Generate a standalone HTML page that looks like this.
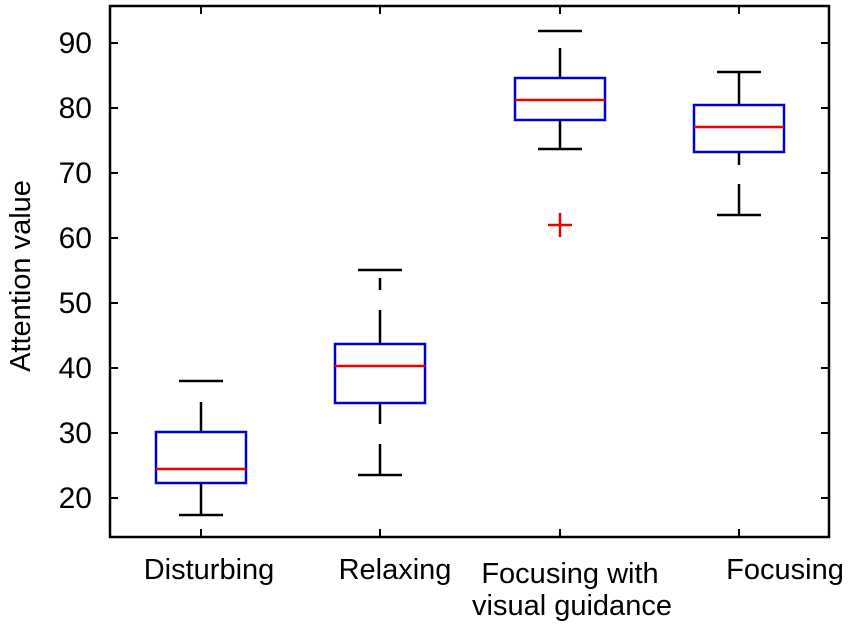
<!DOCTYPE html>
<html><head><style>body{margin:0;background:#fff}svg{display:block}text{font-family:"Liberation Sans","DejaVu Sans",sans-serif;fill:#000}</style></head>
<body>
<svg width="850" height="637" viewBox="0 0 850 637" xmlns="http://www.w3.org/2000/svg">
<rect x="110" y="6" width="719" height="531" fill="none" stroke="#000" stroke-width="2.5"/>
<g stroke="#000" stroke-width="2">
<line x1="110" y1="43" x2="118" y2="43"/><line x1="110" y1="108" x2="118" y2="108"/><line x1="110" y1="173" x2="118" y2="173"/><line x1="110" y1="238" x2="118" y2="238"/><line x1="110" y1="303" x2="118" y2="303"/><line x1="110" y1="368" x2="118" y2="368"/><line x1="110" y1="433" x2="118" y2="433"/><line x1="110" y1="498" x2="118" y2="498"/>
<line x1="829" y1="43" x2="821" y2="43"/><line x1="829" y1="108" x2="821" y2="108"/><line x1="829" y1="173" x2="821" y2="173"/><line x1="829" y1="238" x2="821" y2="238"/><line x1="829" y1="303" x2="821" y2="303"/><line x1="829" y1="368" x2="821" y2="368"/><line x1="829" y1="433" x2="821" y2="433"/><line x1="829" y1="498" x2="821" y2="498"/>
<line x1="201" y1="537" x2="201" y2="529"/><line x1="380" y1="537" x2="380" y2="529"/><line x1="560" y1="537" x2="560" y2="529"/><line x1="739" y1="537" x2="739" y2="529"/>
<line x1="201" y1="6" x2="201" y2="14"/><line x1="380" y1="6" x2="380" y2="14"/><line x1="560" y1="6" x2="560" y2="14"/><line x1="739" y1="6" x2="739" y2="14"/>
</g>
<g font-size="30" text-anchor="end">
<text x="92" y="53">90</text><text x="92" y="118">80</text><text x="92" y="183">70</text><text x="92" y="248">60</text><text x="92" y="313">50</text><text x="92" y="378">40</text><text x="92" y="443">30</text><text x="92" y="508">20</text>
</g>
<text transform="translate(30,276) rotate(-90)" font-size="29" text-anchor="middle">Attention value</text>
<g font-size="29" text-anchor="middle">
<text x="209" y="579">Disturbing</text><text x="395" y="579">Relaxing</text><text x="570" y="583">Focusing with</text><text x="572" y="615">visual guidance</text><text x="785" y="579">Focusing</text>
</g>
<g stroke="#000" stroke-width="2.5" fill="none">
<line x1="179" y1="381" x2="223" y2="381"/><line x1="201" y1="402" x2="201" y2="432"/><line x1="201" y1="483" x2="201" y2="515"/><line x1="179" y1="515" x2="223" y2="515"/>
<line x1="358" y1="270" x2="402" y2="270"/><line x1="380" y1="278" x2="380" y2="290"/><line x1="380" y1="310" x2="380" y2="344"/><line x1="380" y1="403" x2="380" y2="424"/><line x1="380" y1="444" x2="380" y2="475"/><line x1="358" y1="475" x2="402" y2="475"/>
<line x1="538" y1="31" x2="582" y2="31"/><line x1="560" y1="48" x2="560" y2="78"/><line x1="560" y1="120" x2="560" y2="149"/><line x1="538" y1="149" x2="582" y2="149"/>
<line x1="717" y1="72" x2="761" y2="72"/><line x1="739" y1="72" x2="739" y2="105"/><line x1="739" y1="152" x2="739" y2="165"/><line x1="739" y1="184" x2="739" y2="215"/><line x1="717" y1="215" x2="761" y2="215"/>
</g>
<g stroke="#0000cc" stroke-width="2.5" fill="none">
<rect x="156" y="432" width="90" height="51"/><rect x="335" y="344" width="90" height="59"/><rect x="515" y="78" width="90" height="42"/><rect x="694" y="105" width="90" height="47"/>
</g>
<g stroke="#e00" stroke-width="2.5">
<line x1="156" y1="469" x2="246" y2="469"/><line x1="335" y1="366" x2="425" y2="366"/><line x1="515" y1="100" x2="605" y2="100"/><line x1="694" y1="127" x2="784" y2="127"/>
<line x1="548" y1="225" x2="572" y2="225"/><line x1="560" y1="213" x2="560" y2="237"/>
</g>
</svg>
</body></html>
